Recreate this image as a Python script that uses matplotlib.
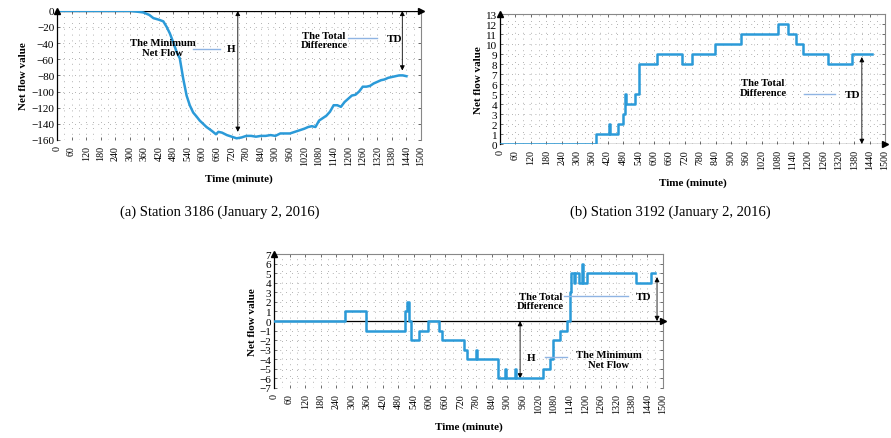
import matplotlib.pyplot as plt
import numpy as np

plt.rcParams['font.family'] = ['Liberation Serif', 'DejaVu Serif']

# (a) Station 3186
a_time = [0, 300, 330, 356, 380, 397, 420, 438, 452, 465, 479, 493, 506, 520, 534, 547, 561, 575, 588, 602,
          616, 630, 643, 655, 665, 680, 700, 720, 740, 760, 780, 800, 820, 840, 860, 880, 900, 920, 940, 960,
          980, 1000, 1020, 1035, 1050, 1065, 1080, 1095, 1110, 1125, 1140, 1155, 1170, 1185, 1200, 1215, 1230,
          1245, 1260, 1275, 1290, 1305, 1320, 1335, 1350, 1365, 1380, 1395, 1410, 1425, 1440]
a_value = [0, 0, -1, -2, -5, -9, -11, -13, -20, -28, -39, -51, -59, -84, -105, -117, -126, -131, -136, -140,
           -144, -147, -150, -153, -150, -151, -154, -156, -158, -157, -155, -155, -156, -155, -155, -154, -155,
           -152, -152, -152, -150, -148, -146, -144, -143, -144, -136, -133, -130, -125, -117, -117, -119, -113,
           -109, -105, -104, -100, -94, -94, -93, -90, -88, -86, -85, -83, -82, -81, -80, -80, -81]

# (b) Station 3192 (step changes)
b_time = [0, 375, 424, 430, 461, 480, 488, 492, 500, 526, 543, 613, 708, 749, 838, 938, 1084, 1123, 1153,
          1182, 1279, 1370, 1448]
b_value = [0, 1, 2, 1, 2, 3, 5, 4, 4, 5, 8, 9, 8, 9, 10, 11, 12, 11, 10, 9, 8, 9, 9]

# (c) third station (step changes)
c_time = [0, 272, 356, 506, 514, 522, 530, 559, 594, 636, 649, 733, 744, 778, 784, 864, 890, 896, 928, 934,
          1037, 1066, 1076, 1102, 1131, 1140, 1147, 1155, 1160, 1176, 1186, 1192, 1208, 1397, 1455, 1470]
c_value = [0, 1, -1, 1, 2, 0, -2, -1, 0, -1, -2, -3, -4, -3, -4, -6, -5, -6, -5, -6,
           -5, -4, -2, -1, 0, 3, 5, 4, 5, 4, 6, 4, 5, 4, 5, 5]

xticks = np.arange(0, 1501, 60)
BLUE = '#2b9ad8'
LBLUE = '#8fb4e3'


def style_axes(ax, ylim, yticks, xaxis_y):
    ax.set_xlim(0, 1500)
    ax.set_ylim(*ylim)
    ax.set_xticks(xticks)
    ax.set_xticklabels([str(t) for t in xticks], rotation=90, fontsize=7.2)
    ax.set_yticks(yticks)
    ax.set_yticklabels([str(t).replace('-', '\u2212') for t in yticks], fontsize=8)
    ax.set_xticks(np.arange(30, 1500, 60), minor=True)
    ax.tick_params(which='both', direction='in', length=2.5, width=0.6, color='#555555',
                   top=True, right=True, pad=2)
    ax.tick_params(axis='x', pad=3.5)
    ax.tick_params(which='minor', length=0)
    ax.grid(True, which='both', color='#999999', linestyle=(0, (1, 6)), linewidth=0.6)
    for s in ['top', 'right']:
        ax.spines[s].set_color('#888888')
        ax.spines[s].set_linewidth(0.8)
    ax.spines['bottom'].set_visible(False)
    ax.spines['left'].set_color('black')
    ax.spines['left'].set_linewidth(0.9)
    # x axis line at zero with arrow
    ax.axhline(xaxis_y, color='black', lw=0.9, zorder=3)
    ax.plot([1.0], [xaxis_y], marker='>', color='black', markersize=4,
            transform=ax.get_yaxis_transform(), clip_on=False, zorder=4)
    ax.plot([0], [1.0], marker='^', color='black', markersize=4,
            transform=ax.get_xaxis_transform(), clip_on=False, zorder=4)
    ax.set_xlabel('Time (minute)', fontsize=8, fontweight='bold', labelpad=6)
    ax.set_ylabel('Net flow value', fontsize=8, fontweight='bold', labelpad=2)


def double_arrow(ax, x, y0, y1):
    ax.annotate('', xy=(x, y1), xytext=(x, y0),
                arrowprops=dict(arrowstyle='<|-|>', color='black', lw=0.6,
                                mutation_scale=7, shrinkA=0, shrinkB=0))


def label(ax, txt, x, y, x0, x1, ly, key, kx, ha='center'):
    ax.text(x, y, txt, fontsize=7.7, fontweight='bold', ha=ha, va='center', linespacing=1.1, zorder=5)
    ax.plot([x0, x1], [ly, ly], color=LBLUE, lw=1.0, zorder=5)
    ax.text(kx, ly, key, fontsize=8, fontweight='bold', ha='left', va='center', zorder=5)


fig = plt.figure(figsize=(8.91, 4.39), dpi=100)

# (a)
ax1 = fig.add_axes([0.064, 0.679, 0.4085, 0.294])
ax1.plot(a_time, a_value, color=BLUE, lw=1.8, zorder=4)
style_axes(ax1, (-160, 0), np.arange(-160, 1, 20), 0)
double_arrow(ax1, 745, 0, -150)
double_arrow(ax1, 1423, 0, -74)
label(ax1, 'The Minimum\nNet Flow', 436, -45, 560, 670, -47, 'H', 700)
label(ax1, 'The Total\nDifference', 1100, -36, 1200, 1317, -34, 'TD', 1360)
fig.text(0.247, 0.517, '(a) Station 3186 (January 2, 2016)', ha='center', va='center', fontsize=10.5)

# (b)
ax2 = fig.add_axes([0.5612, 0.6697, 0.432, 0.296])
ax2.step(b_time, b_value, where='post', color=BLUE, lw=1.8, zorder=4)
style_axes(ax2, (0, 13), np.arange(0, 14, 1), 0)
double_arrow(ax2, 1410, 8.7, 0)
label(ax2, 'The Total\nDifference', 1025, 5.65, 1185, 1305, 5.0, 'TD', 1345)
fig.text(0.752, 0.517, '(b) Station 3192 (January 2, 2016)', ha='center', va='center', fontsize=10.5)

# (c)
ax3 = fig.add_axes([0.3075, 0.1139, 0.4366, 0.305])
ax3.step(c_time, c_value, where='post', color=BLUE, lw=1.8, zorder=4)
style_axes(ax3, (-7, 7), np.arange(-7, 8, 1), 0)
double_arrow(ax3, 949, 0, -6)
double_arrow(ax3, 1477, 4.6, 0)
label(ax3, 'The Total\nDifference', 1028, 2.1, 1118, 1365, 2.6, 'TD', 1395)
label(ax3, 'The Minimum\nNet Flow', 1290, -4.0, 1045, 1130, -3.8, 'H', 975)

fig.savefig('out.png', dpi=100)
